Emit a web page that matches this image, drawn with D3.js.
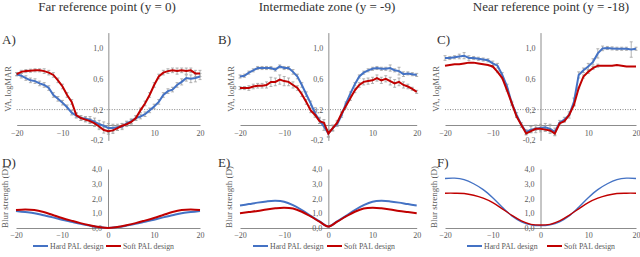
<!DOCTYPE html>
<html>
<head>
<meta charset="utf-8">
<script src="https://cdn.jsdelivr.net/npm/d3@7"></script>
<style>
  body { margin: 0; background: #fff; }
  text { font-family: "Times New Roman", Times, "Liberation Serif", "DejaVu Serif", serif; }
</style>
</head>
<body>
<div id="graph"></div>
<script>
// positions across the lens, degrees
var xs = [-20,-19,-18,-17,-16,-15,-14,-13,-12,-11,-10,-9,-8,-7,-6,-5,-4,-3,-2,-1,0,
          1,2,3,4,5,6,7,8,9,10,11,12,13,14,15,16,17,18,19,20];
var xsBlur = [-20,-18,-16,-14,-12,-10,-8,-6,-4,-2,0,2,4,6,8,10,12,14,16,18,20];

var titles = ['Far reference point (y = 0)', 'Intermediate zone (y = -9)', 'Near reference point (y = -18)'];
var topLetters = ['A)', 'B)', 'C)'];
var bottomLetters = ['D)', 'E)', 'F)'];
var seriesNames = ['Hard PAL design', 'Soft PAL design'];

var vaTicks = [-0.2, 0.2, 0.6, 1.0];
var vaXTicks = [-20, -10, 10, 20];
var blurTicks = [0, 1, 2, 3, 4];
var blurXTicks = [-20, -10, 0, 10, 20];

// VA, logMAR
var vaHardA = [0.66,0.64,0.61,0.58,0.57,0.54,0.52,0.48,0.39,0.34,0.29,0.23,0.16,0.12,0.09,0.08,0.07,0.04,0.01,-0.01,-0.04,
               -0.04,-0.03,-0.02,0.02,0.05,0.09,0.11,0.14,0.19,0.24,0.30,0.39,0.44,0.46,0.52,0.56,0.61,0.60,0.61,0.63];
var vaSoftA = [0.66,0.69,0.70,0.705,0.71,0.71,0.70,0.68,0.65,0.58,0.50,0.39,0.30,0.13,0.09,0.07,0.05,0.02,-0.02,-0.065,-0.08,
               -0.07,-0.04,-0.01,0.01,0.04,0.09,0.19,0.28,0.39,0.52,0.63,0.68,0.70,0.71,0.70,0.71,0.70,0.71,0.67,0.67];
var errHardA = [0.02,0.03,0.03,0.03,0.03,0.03,0.03,0.03,0.03,0.03,0.03,0.03,0.03,0.03,0.03,0.03,0.04,0.05,0.05,0.05,0.06,
                0.05,0.04,0.04,0.03,0.03,0.03,0.03,0.03,0.03,0.03,0.03,0.03,0.03,0.03,0.03,0.04,0.04,0.05,0.05,0.04];
var errSoftA = [0.02,0.02,0.02,0.02,0.02,0.02,0.03,0.03,0.03,0.03,0.03,0.03,0.03,0.03,0.03,0.03,0.03,0.04,0.04,0.04,0.04,
                0.04,0.03,0.03,0.03,0.03,0.03,0.03,0.03,0.03,0.03,0.03,0.03,0.03,0.03,0.04,0.03,0.04,0.03,0.04,0.04];

var vaHardB = [0.63,0.64,0.68,0.71,0.74,0.74,0.74,0.74,0.72,0.76,0.74,0.74,0.69,0.63,0.52,0.40,0.28,0.15,0.06,-0.02,-0.11,
               -0.04,0.01,0.13,0.28,0.41,0.53,0.63,0.68,0.71,0.73,0.74,0.73,0.73,0.74,0.71,0.70,0.66,0.67,0.66,0.65];
var vaSoftB = [0.48,0.48,0.48,0.50,0.51,0.51,0.52,0.56,0.56,0.59,0.57,0.56,0.52,0.48,0.40,0.30,0.19,0.13,0.05,0.03,-0.11,
               -0.04,0.03,0.15,0.25,0.35,0.45,0.52,0.56,0.57,0.58,0.61,0.58,0.60,0.57,0.54,0.56,0.52,0.50,0.47,0.43];
var errHardB = [0.02,0.02,0.02,0.02,0.02,0.02,0.02,0.02,0.02,0.02,0.02,0.02,0.03,0.03,0.03,0.03,0.03,0.03,0.04,0.05,0.05,
                0.04,0.03,0.03,0.02,0.02,0.02,0.02,0.02,0.02,0.02,0.02,0.02,0.02,0.04,0.02,0.05,0.03,0.02,0.02,0.02];
var errSoftB = [0.02,0.02,0.03,0.03,0.03,0.03,0.04,0.06,0.05,0.06,0.06,0.05,0.04,0.03,0.03,0.03,0.03,0.03,0.03,0.04,0.04,
                0.03,0.03,0.03,0.03,0.03,0.03,0.03,0.04,0.04,0.04,0.04,0.04,0.04,0.05,0.05,0.05,0.04,0.03,0.02,0.02];

var vaHardC = [0.87,0.87,0.88,0.89,0.90,0.87,0.87,0.86,0.85,0.84,0.80,0.77,0.65,0.50,0.28,0.13,0.00,-0.09,-0.06,-0.05,-0.04,
               -0.03,-0.05,-0.09,0.03,0.07,0.13,0.30,0.65,0.71,0.76,0.82,0.93,0.995,1.00,0.995,0.99,0.99,0.99,0.98,0.99];
var vaSoftC = [0.77,0.78,0.79,0.79,0.80,0.81,0.81,0.80,0.79,0.78,0.76,0.69,0.61,0.45,0.28,0.11,0.00,-0.11,-0.08,-0.05,-0.05,
               -0.06,-0.07,-0.11,0.02,0.05,0.13,0.26,0.48,0.63,0.69,0.74,0.77,0.77,0.77,0.77,0.78,0.77,0.76,0.76,0.76];
var errHardC = [0.03,0.02,0.02,0.03,0.04,0.03,0.02,0.02,0.02,0.02,0.03,0.03,0.03,0.03,0.03,0.03,0.03,0.03,0.04,0.05,0.05,
                0.05,0.06,0.05,0.03,0.03,0.04,0.05,0.04,0.03,0.04,0.04,0.06,0.03,0.02,0.02,0.02,0.02,0.02,0.10,0.02];
var errSoftC = [0.00,0.00,0.00,0.00,0.00,0.00,0.00,0.00,0.00,0.00,0.01,0.01,0.01,0.01,0.01,0.01,0.01,0.02,0.02,0.02,0.02,
                0.02,0.02,0.02,0.01,0.01,0.01,0.01,0.01,0.02,0.02,0.02,0.02,0.00,0.00,0.00,0.00,0.00,0.00,0.00,0.00];

// blur strength, D
var blurHardD = [1.15,1.08,1.00,0.86,0.72,0.56,0.42,0.28,0.16,0.06,0.00,0.06,0.16,0.28,0.42,0.56,0.72,0.86,1.00,1.08,1.15];
var blurSoftD = [1.22,1.26,1.22,1.08,0.88,0.68,0.50,0.33,0.19,0.07,0.00,0.07,0.19,0.33,0.50,0.68,0.88,1.08,1.22,1.26,1.22];
var blurHardE = [1.53,1.62,1.72,1.80,1.84,1.78,1.55,1.22,0.82,0.45,0.10,0.45,0.82,1.22,1.55,1.78,1.84,1.80,1.72,1.62,1.53];
var blurSoftE = [1.00,1.08,1.16,1.26,1.34,1.38,1.32,1.10,0.78,0.43,0.10,0.43,0.78,1.10,1.32,1.38,1.34,1.26,1.16,1.08,1.00];
var blurHardF = [3.36,3.38,3.28,3.00,2.60,2.05,1.40,0.82,0.42,0.22,0.16,0.22,0.42,0.82,1.40,2.05,2.60,3.00,3.28,3.38,3.36];
var blurSoftF = [2.36,2.36,2.34,2.22,2.02,1.72,1.30,0.86,0.48,0.25,0.20,0.25,0.48,0.86,1.30,1.72,2.02,2.22,2.34,2.36,2.36];

var hardColor = '#4472c4',
    softColor = '#c00000',
    axisColor = '#8c8c8c',
    textColor = '#595959';

var topPanels = [
    {left: 16.7, right: 200, hard: vaHardA, soft: vaSoftA, eh: errHardA, es: errSoftA},
    {left: 240, right: 416.7, hard: vaHardB, soft: vaSoftB, eh: errHardB, es: errSoftB},
    {left: 445, right: 636, hard: vaHardC, soft: vaSoftC, eh: errHardC, es: errSoftC}
];
var bottomPanels = [
    {left: 16, right: 200, hard: blurHardD, soft: blurSoftD, lw: 2, legend: [33, 106]},
    {left: 240, right: 416.7, hard: blurHardE, soft: blurSoftE, lw: 2, legend: [253, 327]},
    {left: 445, right: 636, hard: blurHardF, soft: blurSoftF, lw: 1.4, legend: [467, 547]}
];
var colX = [107, 327, 551];
var letterX = [2, 218, 437];

var svg = d3.select('#graph')
    .append('svg')
        .attr('width', 640)
        .attr('height', 257);

titles.forEach(function(t, i) {
    svg.append('text')
        .attr('x', colX[i])
        .attr('y', 11)
        .attr('text-anchor', 'middle')
        .attr('font-size', 13)
        .attr('fill', '#333')
        .text(t);
});

function styleAxis(a) {
    a.attr('font-family', null);
    a.select('.domain').attr('stroke', axisColor);
    a.selectAll('text').attr('font-size', 8).attr('fill', textColor);
}

function drawTop(p, i) {
    var x = d3.scaleLinear().domain([-20, 20]).range([p.left, p.right]);
    var y = d3.scaleLinear().domain([-0.2, 1.2]).range([140.4, 32.6]);
    var g = svg.append('g');

    g.append('text').attr('x', letterX[i]).attr('y', 44)
        .attr('font-size', 13).attr('fill', '#333').text(topLetters[i]);

    // dotted 0.2 line
    g.append('line')
        .attr('x1', x(-20)).attr('x2', x(20))
        .attr('y1', y(0.2)).attr('y2', y(0.2))
        .attr('stroke', '#666').attr('stroke-width', 0.8)
        .attr('stroke-dasharray', '1,1.5');

    // x axis at y = 0
    var xa = g.append('g')
        .attr('transform', 'translate(0,' + y(0) + ')')
        .call(d3.axisBottom(x).tickValues(vaXTicks).tickSize(0).tickPadding(5));
    styleAxis(xa);

    // y axis at x = 0
    var ya = g.append('g')
        .attr('transform', 'translate(' + x(0) + ',0)')
        .call(d3.axisLeft(y).tickValues(vaTicks).tickSize(0).tickPadding(5)
            .tickFormat(function(d) { return d3.format('.1f')(d).replace('.', ',').replace('−', '-'); }));
    styleAxis(ya);

    g.append('text')
        .attr('transform', 'translate(' + (p.left - 6) + ',' + 89 + ') rotate(-90)')
        .attr('text-anchor', 'middle')
        .attr('font-size', 8.5).attr('fill', textColor)
        .text('VA, logMAR');

    [[p.hard, p.eh], [p.soft, p.es]].forEach(function(s) {
        xs.forEach(function(xv, k) {
            var e = s[1][k];
            if (!e) return;
            var cx = x(xv);
            g.append('path')
                .attr('d', 'M' + cx + ',' + y(s[0][k] - e) + 'V' + y(s[0][k] + e) +
                    'M' + (cx - 1.5) + ',' + y(s[0][k] - e) + 'H' + (cx + 1.5) +
                    'M' + (cx - 1.5) + ',' + y(s[0][k] + e) + 'H' + (cx + 1.5))
                .attr('stroke', '#a0a0a0').attr('stroke-width', 0.8).attr('fill', 'none');
        });
    });

    var line = d3.line().x(function(d, k) { return x(xs[k]); }).y(function(d) { return y(d); });
    g.append('path').datum(p.hard).attr('d', line)
        .attr('fill', 'none').attr('stroke', hardColor).attr('stroke-width', 2);
    g.append('path').datum(p.soft).attr('d', line)
        .attr('fill', 'none').attr('stroke', softColor).attr('stroke-width', 2);
}

function drawBottom(p, i) {
    var x = d3.scaleLinear().domain([-20, 20]).range([p.left, p.right]);
    var y = d3.scaleLinear().domain([0, 4]).range([228, 169]);
    var g = svg.append('g');

    g.append('text').attr('x', letterX[i]).attr('y', 167)
        .attr('font-size', 13).attr('fill', '#333').text(bottomLetters[i]);

    var xa = g.append('g')
        .attr('transform', 'translate(0,' + y(0) + ')')
        .call(d3.axisBottom(x).tickValues(blurXTicks).tickSize(0).tickPadding(4));
    styleAxis(xa);

    var ya = g.append('g')
        .attr('transform', 'translate(' + x(0) + ',0)')
        .call(d3.axisLeft(y).tickValues(blurTicks).tickSize(0).tickPadding(6)
            .tickFormat(function(d) { return d3.format('.1f')(d).replace('.', ','); }));
    styleAxis(ya);

    g.append('text')
        .attr('transform', 'translate(' + (p.left - 8) + ',' + 197 + ') rotate(-90)')
        .attr('text-anchor', 'middle')
        .attr('font-size', 9).attr('fill', textColor)
        .text('Blur strength (D)');

    var line = d3.line().curve(d3.curveCatmullRom)
        .x(function(d, k) { return x(xsBlur[k]); }).y(function(d) { return y(d); });
    g.append('path').datum(p.hard).attr('d', line)
        .attr('fill', 'none').attr('stroke', hardColor).attr('stroke-width', p.lw);
    g.append('path').datum(p.soft).attr('d', line)
        .attr('fill', 'none').attr('stroke', softColor).attr('stroke-width', p.lw);

    // legend
    [hardColor, softColor].forEach(function(c, k) {
        var lx = p.legend[k];
        g.append('line').attr('x1', lx).attr('x2', lx + 15).attr('y1', 246).attr('y2', 246)
            .attr('stroke', c).attr('stroke-width', 2);
        g.append('text').attr('x', lx + 17).attr('y', 249)
            .attr('font-size', 7.8).attr('fill', textColor).text(seriesNames[k]);
    });
}

topPanels.forEach(drawTop);
bottomPanels.forEach(drawBottom);
</script>
</body>
</html>
